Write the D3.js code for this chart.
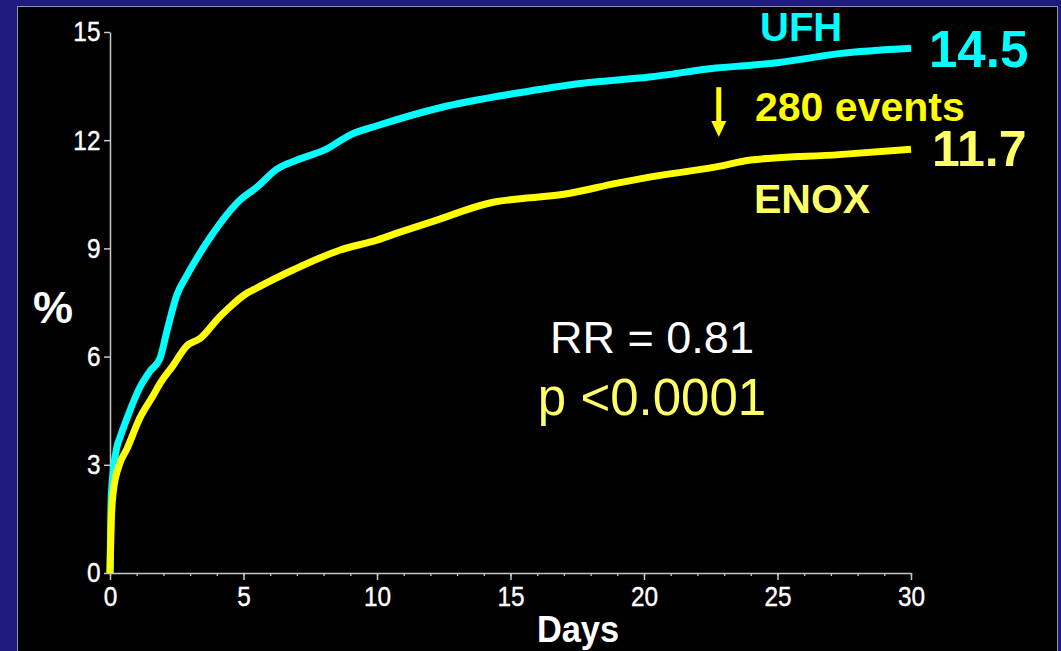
<!DOCTYPE html>
<html>
<head>
<meta charset="utf-8">
<script src="https://cdn.jsdelivr.net/npm/d3@7"></script>
<style>
  html, body { margin: 0; padding: 0; background: #1e1a7e; overflow: hidden; }
  svg { display: block; }
  text { font-family: "Liberation Sans", Arial, sans-serif; }
</style>
</head>
<body>
<script>
// ---- Data ----
const ufhDays   = [0, 0.05, 0.26, 0.37, 0.64, 1.12, 1.5, 1.87, 2.13, 2.5, 2.88, 3.75, 4.87, 5.5, 6.25, 7, 8.1, 9, 10, 12.36, 15.2, 17.7, 20.2, 22.7, 24, 25, 27.3, 30];
const ufhPct    = [0, 2.2, 3.5, 3.75, 4.3, 5.15, 5.6, 5.95, 6.7, 7.7, 8.25, 9.3, 10.34, 10.7, 11.2, 11.45, 11.75, 12.15, 12.4, 12.9, 13.3, 13.58, 13.75, 14.0, 14.08, 14.15, 14.4, 14.55];
const enoxDays  = [0, 0.05, 0.13, 0.35, 0.64, 1.12, 1.6, 1.87, 2.36, 2.88, 3.37, 4.1, 4.38, 5.13, 5.36, 6.85, 8.6, 10, 10.86, 12.1, 14.5, 15, 17, 19, 20, 22.7, 24, 27.3, 30];
const enoxPct   = [0, 1.5, 2.3, 3.0, 3.45, 4.3, 4.9, 5.25, 5.75, 6.3, 6.5, 7.1, 7.3, 7.76, 7.85, 8.4, 8.95, 9.23, 9.45, 9.75, 10.3, 10.35, 10.5, 10.81, 10.95, 11.26, 11.45, 11.6, 11.75];
const yTicks    = [0, 3, 6, 9, 12, 15];
const xTicks    = [0, 5, 10, 15, 20, 25, 30];
const xMinor    = d3.range(0, 31, 1);
const finalUFH  = "14.5";
const finalENOX = "11.7";
const arrowDay  = 22.8;
const arrowFrom = 13.47;
const arrowTo   = 12.09;

const W = 1061, H = 651;
const svg = d3.select("body").append("svg").attr("width", W).attr("height", H);

// frame
svg.append("rect").attr("width", W).attr("height", H).attr("fill", "#1e1a7e");
svg.append("rect").attr("x", 17.5).attr("y", 6.5).attr("width", 1040).attr("height", 700)
  .attr("fill", "#000").attr("stroke", "#8f8fb0").attr("stroke-width", 1);

const x = d3.scaleLinear().domain([0, 30]).range([110, 911]);
const y = d3.scaleLinear().domain([0, 15]).range([573, 32]);

const axisColor = "#c8c8c8";

// minor x ticks
const gMinor = svg.append("g").attr("transform", `translate(0,${y(0)})`)
  .call(d3.axisBottom(x).tickValues(xMinor).tickSize(3).tickFormat(""));
gMinor.select(".domain").remove();
gMinor.selectAll("line").attr("stroke", axisColor).attr("stroke-width", 1.3);

// major x axis
const gx = svg.append("g").attr("transform", `translate(0,${y(0)})`)
  .call(d3.axisBottom(x).tickValues(xTicks).tickSize(7).tickPadding(6).tickSizeOuter(0));
gx.select(".domain").attr("stroke", axisColor).attr("stroke-width", 1.5);
gx.selectAll("line").attr("stroke", axisColor).attr("stroke-width", 1.5);
gx.selectAll("text").attr("fill", "#fff").attr("font-size", 28)
  .attr("font-family", "Liberation Sans, Arial, sans-serif")
  .attr("stroke", "#fff").attr("stroke-width", 0.4)
  .attr("transform", "scale(0.87,1)");

// y axis
const gy = svg.append("g").attr("transform", `translate(${x(0)},0)`)
  .call(d3.axisLeft(y).tickValues(yTicks).tickSize(6).tickPadding(5).tickSizeOuter(0));
gy.select(".domain").attr("stroke", axisColor).attr("stroke-width", 1.5);
gy.selectAll("line").attr("stroke", axisColor).attr("stroke-width", 1.5);
gy.selectAll("text").attr("fill", "#fff").attr("font-size", 28)
  .attr("font-family", "Liberation Sans, Arial, sans-serif")
  .attr("stroke", "#fff").attr("stroke-width", 0.4)
  .attr("transform", "scale(0.87,1)");

// lines
const line = d3.line().x(d => x(d[0])).y(d => y(d[1])).curve(d3.curveMonotoneX);
const ufh = ufhDays.map((d, i) => [d, ufhPct[i]]);
const enox = enoxDays.map((d, i) => [d, enoxPct[i]]);

svg.append("path").datum(ufh).attr("d", line)
  .attr("fill", "none").attr("stroke", "#00ffff").attr("stroke-width", 7).attr("stroke-linejoin", "round");
svg.append("path").datum(enox).attr("d", line)
  .attr("fill", "none").attr("stroke", "#ffff00").attr("stroke-width", 7).attr("stroke-linejoin", "round");

// axis titles
svg.append("text").attr("x", 578).attr("y", 642).attr("text-anchor", "middle")
  .attr("font-size", 37).attr("font-weight", "bold").attr("fill", "#fff")
  .attr("transform", "translate(578,0) scale(0.93,1) translate(-578,0)")
  .text("Days");
svg.append("text").attr("x", 53).attr("y", 323).attr("text-anchor", "middle")
  .attr("font-size", 45).attr("font-weight", "bold").attr("fill", "#fff").text("%");

// annotations
svg.append("text").attr("x", 760).attr("y", 41).attr("font-size", 40).attr("font-weight", "bold")
  .attr("fill", "#00ffff").text("UFH");
svg.append("text").attr("x", 929).attr("y", 67).attr("font-size", 51).attr("font-weight", "bold")
  .attr("fill", "#00ffff").text(finalUFH);
svg.append("text").attr("x", 755).attr("y", 121).attr("font-size", 41).attr("font-weight", "bold")
  .attr("fill", "#ffff00").text("280 events");
svg.append("text").attr("x", 932).attr("y", 166).attr("font-size", 50).attr("font-weight", "bold")
  .attr("fill", "#ffff66").text(finalENOX);
svg.append("text").attr("x", 754).attr("y", 213).attr("font-size", 41).attr("font-weight", "bold")
  .attr("fill", "#ffff66").text("ENOX");

// arrow
const ax = x(arrowDay);
svg.append("line").attr("x1", ax).attr("x2", ax).attr("y1", y(arrowFrom)).attr("y2", y(arrowTo) - 12)
  .attr("stroke", "#ffff00").attr("stroke-width", 5);
svg.append("path")
  .attr("d", `M${ax - 7.5},${y(arrowTo) - 16} L${ax + 7.5},${y(arrowTo) - 16} L${ax},${y(arrowTo)} Z`)
  .attr("fill", "#ffff00");

svg.append("text").attr("x", 652).attr("y", 353).attr("text-anchor", "middle")
  .attr("font-size", 45).attr("fill", "#fff").text("RR = 0.81");
svg.append("text").attr("x", 652).attr("y", 415).attr("text-anchor", "middle")
  .attr("font-size", 51).attr("fill", "#ffff66").text("p <0.0001");
</script>
</body>
</html>
